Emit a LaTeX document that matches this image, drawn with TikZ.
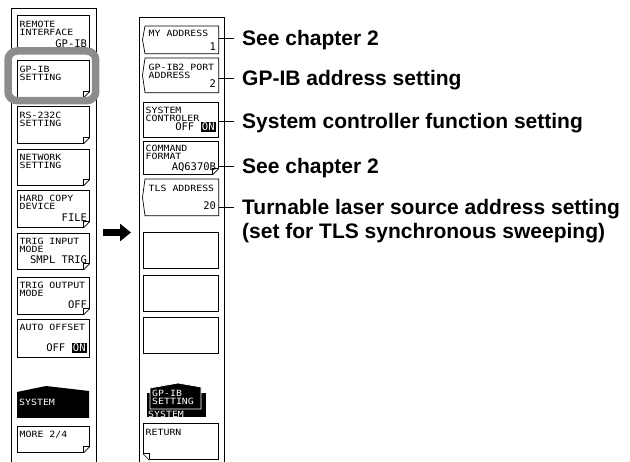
\documentclass[tikz,border=0pt]{standalone}
\usepackage{fontspec}
\setmainfont{Liberation Sans}
\newfontfamily\lcdfont[FakeStretch=1.15]{DejaVu Sans Mono}
\newfontfamily\lcdvalfont{DejaVu Sans Mono}
\usetikzlibrary{positioning,arrows.meta}

% inverted ON field
\newcommand{\onfield}{{\setlength{\fboxsep}{1.4pt}\colorbox{black}{\textcolor{white}{ON}}}}
% folded corner, bottom right / bottom left
\newcommand{\dogear}[1]{%
  \fill[white] ([shift={(-6,0)}]#1.south east) -- ([shift={(0,-6)}]#1.south east) -- ([shift={(1,1)}]#1.south east) -- cycle;
  \draw[line width=0.6pt] ([shift={(-6,0)}]#1.south east) -- ([shift={(0,-6)}]#1.south east);
  \draw[line width=0.5pt] ([shift={(-6,0)}]#1.south east) -- ([shift={(-6,-6)}]#1.south east) -- ([shift={(0,-6)}]#1.south east);}
\newcommand{\dogearleft}[1]{%
  \fill[white] ([shift={(6,0)}]#1.south west) -- ([shift={(0,-6)}]#1.south west) -- ([shift={(-1,1)}]#1.south west) -- cycle;
  \draw[line width=0.6pt] ([shift={(6,0)}]#1.south west) -- ([shift={(0,-6)}]#1.south west);
  \draw[line width=0.5pt] ([shift={(6,0)}]#1.south west) -- ([shift={(6,-6)}]#1.south west) -- ([shift={(0,-6)}]#1.south west);}
% key with a notch on its left side
\newcommand{\notchframe}[1]{%
  \draw[line width=0.7pt] (#1.north west) -- (#1.north east) -- (#1.south east) -- (#1.south west) -- ([shift={(-2.5,0)}]#1.west) -- cycle;}

\begin{document}
\begin{tikzpicture}[x=1pt, y=-1pt,
        panel/.style = {draw, line width=0.8pt, anchor=north west,
        minimum width=84.5pt, minimum height=470pt, inner sep=0pt},
        softkey/.style = {draw, line width=0.7pt, anchor=north west,
        minimum width=72pt, minimum height=36pt, inner sep=0pt},
        notchkey/.style = {softkey, draw=none, minimum width=73pt},
        keytxt/.style = {font=\lcdfont\fontsize{8.6}{8.4}\selectfont,
        align=left, inner sep=0pt, anchor=north west},
        keyval/.style = {font=\lcdvalfont\fontsize{10.5}{11}\selectfont,
        inner sep=0pt, anchor=base east},
        tabtxt/.style = {keytxt, text=white},
        note/.style = {font=\fontsize{21}{24}\selectfont\bfseries,
        inner sep=0pt, text height=15pt, text depth=0pt},
        note2/.style = {font=\fontsize{21}{24}\selectfont\bfseries,
        inner sep=0pt, align=left, anchor=north west},
        hilite/.style = {draw=black!45, line width=7.5pt, rounded corners=9pt},
        bigarrow/.style = {line width=6.5pt, -{Triangle[length=11pt, width=17pt]}}]
    \useasboundingbox (0,0) rectangle (630,462);

    % panels
    \node[panel] (leftpanel) at (11,8) {};
    \node[panel] (rightpanel) at (139,17) {};

    % left soft keys
    \node[softkey] (remote) at (17,15) {};
    \node[keytxt] (remote-l) at ([shift={(2.5,6)}]remote.north west) {REMOTE\\INTERFACE};
    \node[keyval] (remote-v) at ([shift={(-2.5,-4)}]remote.south east) {GP-IB};

    \node[softkey, minimum height=37pt] (gpib) at (17,60) {};
    \node[keytxt] (gpib-l) at ([shift={(2.5,6)}]gpib.north west) {GP-IB\\SETTING};
    \dogear{gpib}

    \node[softkey, minimum height=37pt] (rs) at (17,106) {};
    \node[keytxt] (rs-l) at ([shift={(2.5,6)}]rs.north west) {RS-232C\\SETTING};
    \dogear{rs}

    \node[softkey] (network) at (17,149) {};
    \node[keytxt] (network-l) at ([shift={(2.5,5)}]network.north west) {NETWORK\\SETTING};
    \dogear{network}

    \node[softkey, minimum height=37pt] (hardcopy) at (17,190) {};
    \node[keytxt] (hardcopy-l) at ([shift={(2.5,5)}]hardcopy.north west) {HARD COPY\\DEVICE};
    \node[keyval] (hardcopy-v) at ([shift={(-2.5,-6)}]hardcopy.south east) {FILE};
    \dogear{hardcopy}

    \node[softkey] (trigin) at (17,233) {};
    \node[keytxt] (trigin-l) at ([shift={(2.5,5)}]trigin.north west) {TRIG INPUT\\MODE};
    \node[keyval] (trigin-v) at ([shift={(-2.5,-6)}]trigin.south east) {SMPL TRIG};
    \dogear{trigin}

    \node[softkey, minimum height=37pt] (trigout) at (17,277) {};
    \node[keytxt] (trigout-l) at ([shift={(2.5,5)}]trigout.north west) {TRIG OUTPUT\\MODE};
    \node[keyval] (trigout-v) at ([shift={(-2.5,-6)}]trigout.south east) {OFF};
    \dogear{trigout}

    \node[softkey, minimum height=38pt] (autooff) at (17,319) {};
    \node[keytxt] (autooff-l) at ([shift={(2.5,5)}]autooff.north west) {AUTO OFFSET};
    \node[keyval] (autooff-v) at ([shift={(-2.5,-6)}]autooff.south east) {OFF \onfield};

    % SYSTEM tab
    \fill (17,418) -- (17,392) -- (46,386) -- (89,391) -- (89,418) -- cycle;
    \node[tabtxt] (systab-l) at (19,399) {SYSTEM};

    \node[softkey, minimum height=26pt] (more) at (17,426) {};
    \node[keytxt] (more-l) at ([shift={(2.5,5)}]more.north west) {MORE 2/4};
    \dogear{more}

    % right soft keys
    \node[notchkey, minimum height=27pt] (myaddr) at (145,26) {};
    \notchframe{myaddr}
    \node[keytxt] (myaddr-l) at ([shift={(3.5,4)}]myaddr.north west) {MY ADDRESS};
    \node[keyval] (myaddr-v) at ([shift={(-2.5,-3)}]myaddr.south east) {1};

    \node[notchkey, minimum height=34pt] (gpib2) at (145,58) {};
    \notchframe{gpib2}
    \node[keytxt] (gpib2-l) at ([shift={(3.5,6)}]gpib2.north west) {GP-IB2 PORT\\ADDRESS};
    \node[keyval] (gpib2-v) at ([shift={(-2.5,-5)}]gpib2.south east) {2};

    \node[softkey, minimum width=75pt, minimum height=35pt] (sysctl) at (143,102) {};
    \node[keytxt] (sysctl-l) at ([shift={(2.5,5)}]sysctl.north west) {SYSTEM\\CONTROLER};
    \node[keyval] (sysctl-v) at ([shift={(-2.5,-7)}]sysctl.south east) {OFF \onfield};

    \node[softkey, minimum width=75pt, minimum height=33pt] (cmdfmt) at (143,141) {};
    \node[keytxt] (cmdfmt-l) at ([shift={(2.5,4)}]cmdfmt.north west) {COMMAND\\FORMAT};
    \node[keyval] (cmdfmt-v) at ([shift={(-2.5,-4)}]cmdfmt.south east) {AQ6370B};
    \dogear{cmdfmt}

    \node[notchkey, minimum height=36pt] (tlsaddr) at (145,179) {};
    \notchframe{tlsaddr}
    \node[keytxt] (tlsaddr-l) at ([shift={(3.5,6)}]tlsaddr.north west) {TLS ADDRESS};
    \node[keyval] (tlsaddr-v) at ([shift={(-2.5,-6)}]tlsaddr.south east) {20};

    \node[softkey, minimum width=75pt] (blank1) at (143,232) {};
    \node[softkey, minimum width=75pt] (blank2) at (143,275) {};
    \node[softkey, minimum width=75pt] (blank3) at (143,317) {};

    % GP-IB SETTING tab over SYSTEM tab
    \fill (146.5,393) rectangle (206,417.5);
    \node[tabtxt] (systab-r) at (148,410.5) {SYSTEM};
    \filldraw[fill=black, draw=white, line width=0.8pt]
        (150,409) -- (150,388) -- (178,383) -- (201,387) -- (201,409) -- cycle;
    \node[tabtxt] (gpibtab-l) at (152,390) {GP-IB\\SETTING};

    \node[softkey, minimum width=75pt] (return) at (143,423) {};
    \node[keytxt] (return-l) at ([shift={(2.5,6)}]return.north west) {RETURN};
    \dogearleft{return}

    % callouts
    \coordinate (t1) at (234,38);
    \coordinate (t2) at (234,78);
    \coordinate (t3) at (234,121);
    \coordinate (t4) at (234,166);
    \coordinate (t5) at (234,207);
    \draw[line width=0.7pt] (myaddr.east |- t1) -- (t1);
    \draw[line width=0.7pt] (gpib2.east |- t2) -- (t2);
    \draw[line width=0.7pt] (sysctl.east |- t3) -- (t3);
    \draw[line width=0.7pt] (cmdfmt.east |- t4) -- (t4);
    \draw[line width=0.7pt] (tlsaddr.east |- t5) -- (t5);
    \node[note, right=8pt of t1] (n1) {See chapter 2};
    \node[note, right=8pt of t2] (n2) {GP-IB address setting};
    \node[note, right=8pt of t3] (n3) {System controller function setting};
    \node[note, right=8pt of t4] (n4) {See chapter 2};
    \node[note2] (n5) at ([shift={(8,-7.5)}]t5)
        {Turnable laser source address setting\\(set for TLS synchronous sweeping)};

    % highlight and arrow
    \draw[hilite] ([shift={(-9,-9)}]gpib.north west) rectangle ([shift={(6,3)}]gpib.south east);
    \coordinate (arrowy) at (117,232.5);
    \draw[bigarrow] ([xshift=6.5pt]leftpanel.east |- arrowy) -- ([xshift=-8pt]rightpanel.west |- arrowy);
\end{tikzpicture}
\end{document}
